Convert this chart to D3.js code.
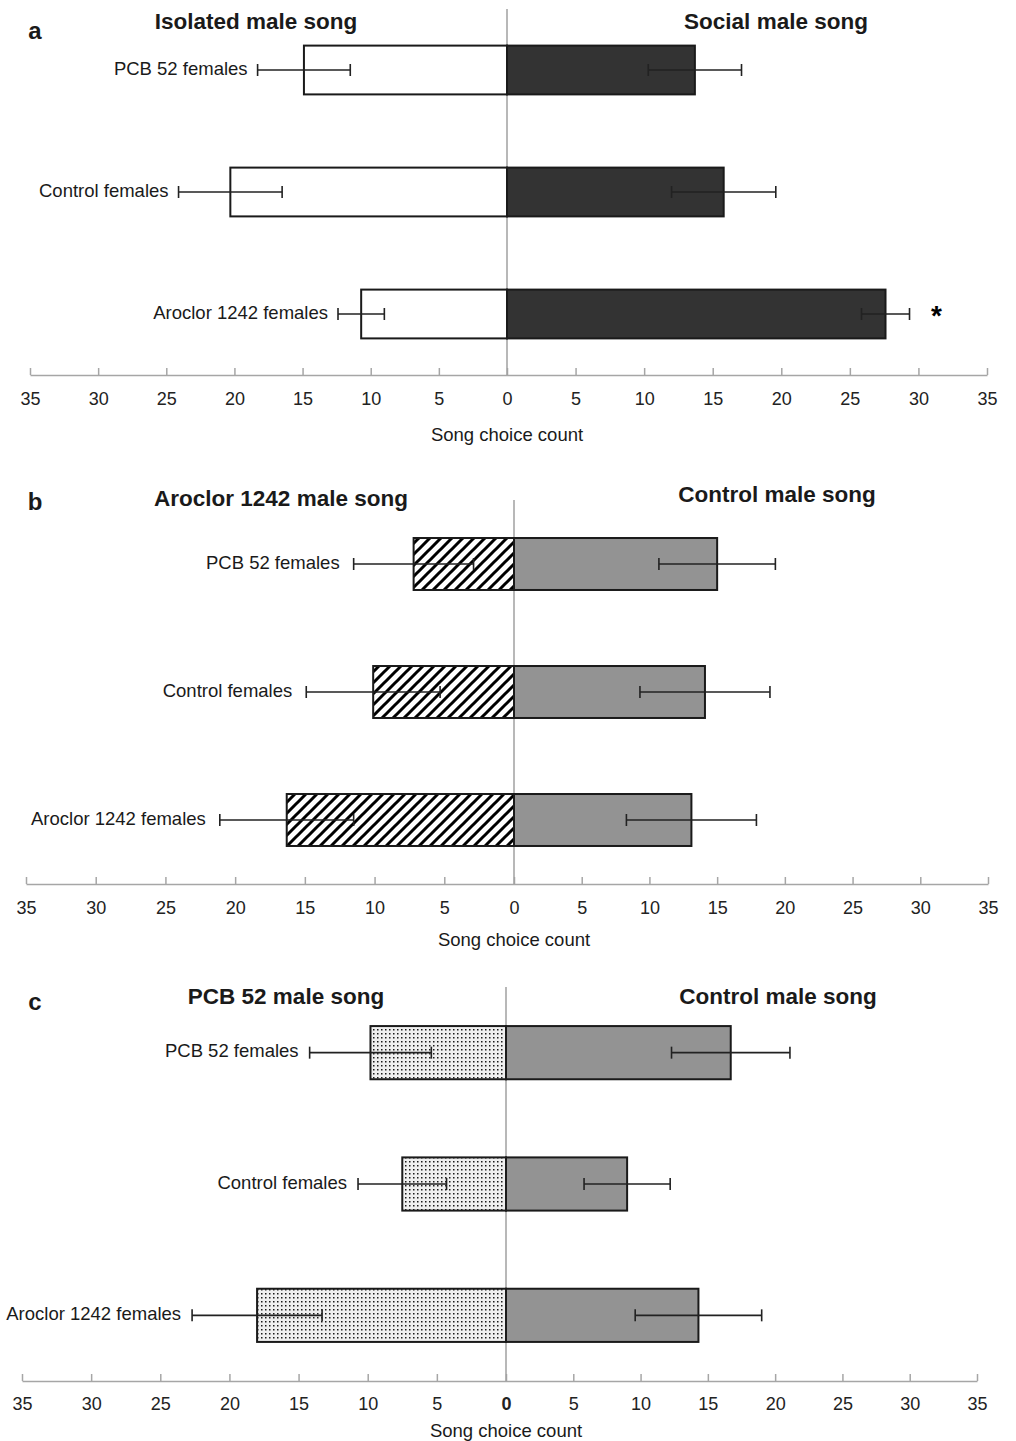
<!DOCTYPE html>
<html>
<head>
<meta charset="utf-8">
<script src="https://cdn.jsdelivr.net/npm/d3@7"></script>
<style>
  html, body { margin: 0; padding: 0; background: #ffffff; }
  svg { display: block; font-family: "Liberation Sans", Arial, Helvetica, sans-serif; }
</style>
</head>
<body>
<svg id="chart" width="1016" height="1441"></svg>
<script>
// ---------------- DATA ----------------
const categories = ["PCB 52 females", "Control females", "Aroclor 1242 females"];
const panelLetters = ["a", "b", "c"];
const leftTitles = ["Isolated male song", "Aroclor 1242 male song", "PCB 52 male song"];
const rightTitles = ["Social male song", "Control male song", "Control male song"];
const axisTitle = "Song choice count";
const tickValues = [-35, -30, -25, -20, -15, -10, -5, 0, 5, 10, 15, 20, 25, 30, 35];

// Panel a: isolated (left) vs social (right) male song
const leftValuesA  = [14.9, 20.3, 10.7];
const leftErrorsA  = [3.4, 3.8, 1.7];
const rightValuesA = [13.7, 15.8, 27.6];
const rightErrorsA = [3.4, 3.8, 1.75];

// Panel b: Aroclor 1242 (left) vs control (right) male song
const leftValuesB  = [7.2, 10.1, 16.3];
const leftErrorsB  = [4.3, 4.8, 4.8];
const rightValuesB = [15.0, 14.1, 13.1];
const rightErrorsB = [4.3, 4.8, 4.8];

// Panel c: PCB 52 (left) vs control (right) male song
const leftValuesC  = [9.8, 7.5, 18.0];
const leftErrorsC  = [4.4, 3.2, 4.7];
const rightValuesC = [16.7, 9.0, 14.3];
const rightErrorsC = [4.4, 3.2, 4.7];

// Significance marks: [panel index, category index, side, symbol]
const sigMarks = [[0, 2, "right", "*"]];

// ---------------- LAYOUT / STYLE ----------------
const panels = [
  { left: leftValuesA, leftErr: leftErrorsA, right: rightValuesA, rightErr: rightErrorsA,
    xRange: [30, 507, 987], yRange: [9, 375], pad: 0.6,
    leftFill: "#ffffff", rightFill: "#333333",
    titleY: [21, 21], titleX: [256, 776], letterY: 30,
    tickPad: 17, axisTitleY: 434, labelGap: 10, boldZero: false },
  { left: leftValuesB, leftErr: leftErrorsB, right: rightValuesB, rightErr: rightErrorsB,
    xRange: [26, 514, 988], yRange: [500, 884], pad: 0.594,
    leftFill: "url(#hatch)", rightFill: "#939393",
    titleY: [498, 494], titleX: [281, 777], letterY: 501,
    tickPad: 17, axisTitleY: 939, labelGap: 14, boldZero: false },
  { left: leftValuesC, leftErr: leftErrorsC, right: rightValuesC, rightErr: rightErrorsC,
    xRange: [22, 506, 977], yRange: [987, 1381], pad: 0.595,
    leftFill: "url(#dots)", rightFill: "#939393",
    titleY: [996, 996], titleX: [286, 778], letterY: 1001,
    tickPad: 16, axisTitleY: 1430, labelGap: 11, boldZero: true }
];

const svg = d3.select("#chart");
const defs = svg.append("defs");

// diagonal hatch
const hatch = defs.append("pattern")
  .attr("id", "hatch").attr("patternUnits", "userSpaceOnUse")
  .attr("width", 11).attr("height", 11);
hatch.append("rect").attr("width", 11).attr("height", 11).attr("fill", "#fff");
hatch.append("path")
  .attr("d", "M-2,13 L13,-2 M-2,2 L2,-2 M9,13 L13,9")
  .attr("stroke", "#000").attr("stroke-width", 3);

// dotted stipple
const dots = defs.append("pattern")
  .attr("id", "dots").attr("patternUnits", "userSpaceOnUse")
  .attr("width", 4).attr("height", 4);
dots.append("rect").attr("width", 4).attr("height", 4).attr("fill", "#efefef");
dots.append("rect").attr("x", 1).attr("y", 1).attr("width", 1.5).attr("height", 1.5).attr("fill", "#1a1a1a");

panels.forEach((p, pi) => {
  const g = svg.append("g");
  const x = d3.scaleLinear().domain([-35, 0, 35]).range(p.xRange);
  const y = d3.scaleBand().domain(categories).range(p.yRange)
    .paddingInner(p.pad).paddingOuter(p.pad / 2);
  const axisY = p.yRange[1];

  // axis
  const axis = d3.axisBottom(x).tickValues(tickValues)
    .tickFormat(d => Math.abs(d)).tickSizeInner(-7).tickSizeOuter(0).tickPadding(p.tickPad);
  const ag = g.append("g").attr("transform", `translate(0,${axisY})`).call(axis);
  ag.select(".domain").attr("stroke", "#a6a6a6").attr("stroke-width", 1.5);
  ag.selectAll(".tick line").attr("stroke", "#a6a6a6").attr("stroke-width", 1.5);
  ag.selectAll(".tick text").attr("fill", "#222").attr("font-size", 18)
    .attr("font-family", "Liberation Sans, Arial, sans-serif")
    .attr("font-weight", d => (p.boldZero && d === 0) ? "bold" : "normal");

  // centre line
  g.append("line")
    .attr("x1", x(0)).attr("x2", x(0))
    .attr("y1", p.yRange[0]).attr("y2", axisY)
    .attr("stroke", "#a0a0a0").attr("stroke-width", 1.5);

  // bars
  categories.forEach((c, i) => {
    const y0 = y(c), bh = y.bandwidth(), yc = y0 + bh / 2;
    g.append("rect")
      .attr("x", x(-p.left[i])).attr("y", y0)
      .attr("width", x(0) - x(-p.left[i])).attr("height", bh)
      .attr("fill", p.leftFill).attr("stroke", "#1a1a1a").attr("stroke-width", 2);
    g.append("rect")
      .attr("x", x(0)).attr("y", y0)
      .attr("width", x(p.right[i]) - x(0)).attr("height", bh)
      .attr("fill", p.rightFill).attr("stroke", "#1a1a1a").attr("stroke-width", 2);

    // error bars
    const errs = [
      [-(p.left[i] + p.leftErr[i]), -(p.left[i] - p.leftErr[i])],
      [p.right[i] - p.rightErr[i], p.right[i] + p.rightErr[i]]
    ];
    errs.forEach(([a, b]) => {
      const eg = g.append("g").attr("stroke", "#222").attr("stroke-width", 1.6);
      eg.append("line").attr("x1", x(a)).attr("x2", x(b)).attr("y1", yc).attr("y2", yc);
      eg.append("line").attr("x1", x(a)).attr("x2", x(a)).attr("y1", yc - 6).attr("y2", yc + 6);
      eg.append("line").attr("x1", x(b)).attr("x2", x(b)).attr("y1", yc - 6).attr("y2", yc + 6);
    });

    // category label
    g.append("text")
      .attr("x", x(-(p.left[i] + p.leftErr[i])) - p.labelGap)
      .attr("y", yc - 2)
      .attr("text-anchor", "end").attr("dominant-baseline", "central")
      .attr("font-size", 18.5).attr("fill", "#1a1a1a").text(c);
  });

  // significance marks
  sigMarks.filter(s => s[0] === pi).forEach(s => {
    const c = categories[s[1]];
    const yc = y(c) + y.bandwidth() / 2;
    const xv = s[2] === "right" ? x(p.right[s[1]] + p.rightErr[s[1]]) + 27
                                : x(-(p.left[s[1]] + p.leftErr[s[1]])) - 27;
    g.append("text").attr("x", xv).attr("y", yc + 11)
      .attr("text-anchor", "middle").attr("font-size", 28).attr("font-weight", "bold")
      .attr("fill", "#000").text(s[3]);
  });

  // titles
  g.append("text").attr("x", p.titleX[0]).attr("y", p.titleY[0])
    .attr("text-anchor", "middle").attr("dominant-baseline", "central")
    .attr("font-size", 22.5).attr("font-weight", "bold").attr("fill", "#1a1a1a")
    .text(leftTitles[pi]);
  g.append("text").attr("x", p.titleX[1]).attr("y", p.titleY[1])
    .attr("text-anchor", "middle").attr("dominant-baseline", "central")
    .attr("font-size", 22.5).attr("font-weight", "bold").attr("fill", "#1a1a1a")
    .text(rightTitles[pi]);

  // panel letter
  g.append("text").attr("x", 35).attr("y", p.letterY)
    .attr("text-anchor", "middle").attr("dominant-baseline", "central")
    .attr("font-size", 24).attr("font-weight", "bold").attr("fill", "#1a1a1a")
    .text(panelLetters[pi]);

  // axis title
  g.append("text").attr("x", x(0)).attr("y", p.axisTitleY)
    .attr("text-anchor", "middle").attr("dominant-baseline", "central")
    .attr("font-size", 18.5).attr("fill", "#1a1a1a").text(axisTitle);
});
</script>
</body>
</html>
